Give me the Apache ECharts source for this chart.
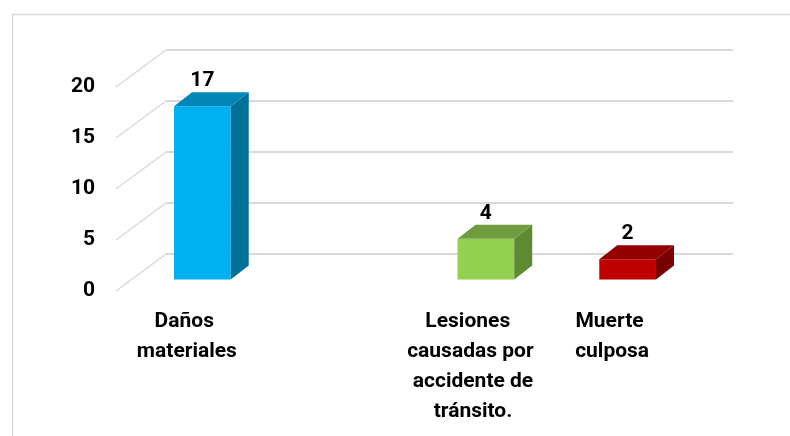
<!DOCTYPE html>
<html>
<head>
<meta charset="utf-8">
<script src="https://cdn.jsdelivr.net/npm/echarts@6/dist/echarts.min.js"></script>
<style>
  html, body { margin: 0; padding: 0; background: #fff; }
  #chart { width: 790px; height: 436px; }
</style>
</head>
<body>
<div id="chart"></div>
<script>
// data
const categories = ['Daños materiales', '', 'Lesiones causadas por accidente de tránsito.', 'Muerte culposa'];
const values = [17, null, 4, 2];
const yTicks = [0, 5, 10, 15, 20];

// bar colours (front / top / side)
const frontColors = ['#00B0F0', null, '#92D050', '#C00000'];
const topColors = ['#0087B8', null, '#6F9D3D', '#940000'];
const sideColors = ['#007099', null, '#5F8A32', '#780000'];

// fake 3d depth
const WALL_DX = 50, WALL_DY = 37;
const BAR_POS = 0.31;
const BAR_DX = 18, BAR_DY = 14;
const FONT = 'Roboto, "Liberation Sans", sans-serif';
const GRID_COLOR = '#D9D9D9';

const front = { left: 116, top: 87, width: 567, height: 204 };

let chart = echarts.init(document.getElementById('chart'));

function renderBar(params, api) {
  const i = api.value(0);
  const v = api.value(1);
  const top = api.coord([i, v]);
  const base = api.coord([i, 0]);
  const w = api.size([1, 0])[0] * 0.4;
  const ox = WALL_DX * BAR_POS, oy = -WALL_DY * BAR_POS;
  const x0 = top[0] - w / 2 + ox, x1 = x0 + w;
  const yT = top[1] + oy, yB = base[1] + oy;
  return {
    type: 'group',
    children: [
      {
        type: 'polygon',
        shape: { points: [[x0, yB], [x1, yB], [x1, yT], [x0, yT]] },
        style: { fill: frontColors[i] },
      },
      {
        type: 'polygon',
        shape: { points: [[x1, yB], [x1 + BAR_DX, yB - BAR_DY], [x1 + BAR_DX, yT - BAR_DY], [x1, yT]] },
        style: { fill: sideColors[i] },
      },
      {
        type: 'polygon',
        shape: { points: [[x0, yT], [x1, yT], [x1 + BAR_DX, yT - BAR_DY], [x0 + BAR_DX, yT - BAR_DY]] },
        style: { fill: topColors[i] },
      },
      {
        type: 'text',
        style: {
          text: String(v),
          x: (x0 + x1) / 2,
          y: yT - BAR_DY - 11,
          align: 'center',
          verticalAlign: 'middle',
          font: 'bold 21px ' + FONT,
          fill: '#000',
        },
      },
    ],
  };
}

function renderSlant(params, api) {
  const y = api.coord([0, api.value(1)])[1];
  const x = params.coordSys.x;
  return {
    type: 'line',
    shape: { x1: x, y1: y, x2: x + WALL_DX, y2: y - WALL_DY },
    style: { stroke: GRID_COLOR, lineWidth: 1.5 },
  };
}

chart.setOption({
  animation: false,
  graphic: [
    {
      type: 'rect',
      shape: { x: 12.5, y: 14.5, width: 800, height: 450 },
      style: { fill: 'none', stroke: GRID_COLOR, lineWidth: 1.5 },
    },
  ],
  grid: [
    { left: front.left, top: front.top, width: front.width, height: front.height },
    { left: front.left + WALL_DX, top: front.top - WALL_DY, width: front.width, height: front.height },
  ],
  xAxis: [
    {
      type: 'category',
      gridIndex: 0,
      data: categories,
      axisLine: { show: false },
      axisTick: { show: false },
      axisLabel: {
        interval: 0,
        color: '#000',
        fontFamily: FONT,
        fontWeight: 'bold',
        fontSize: 21,
        lineHeight: 30,
        width: 130,
        overflow: 'break',
        margin: 16,
      },
    },
    {
      type: 'category',
      gridIndex: 1,
      data: categories,
      show: false,
    },
  ],
  yAxis: [
    {
      type: 'value',
      gridIndex: 0,
      min: 0,
      max: 20,
      interval: 5,
      axisLine: { show: false },
      axisTick: { show: false },
      splitLine: { show: false },
      axisLabel: {
        color: '#000',
        fontFamily: FONT,
        fontWeight: 'bold',
        fontSize: 21,
        margin: 21,
      },
    },
    {
      type: 'value',
      gridIndex: 1,
      min: 0,
      max: 20,
      interval: 5,
      axisLine: { show: false },
      axisTick: { show: false },
      axisLabel: { show: false },
      splitLine: { lineStyle: { color: GRID_COLOR, width: 2 } },
    },
  ],
  series: [
    {
      type: 'custom',
      xAxisIndex: 0,
      yAxisIndex: 0,
      renderItem: renderSlant,
      data: yTicks.map((t) => [0, t]),
      silent: true,
      z: 1,
    },
    {
      type: 'custom',
      xAxisIndex: 0,
      yAxisIndex: 0,
      renderItem: renderBar,
      data: values.map((v, i) => [i, v]).filter((d) => d[1] !== null),
      z: 3,
    },
  ],
});
</script>
</body>
</html>
